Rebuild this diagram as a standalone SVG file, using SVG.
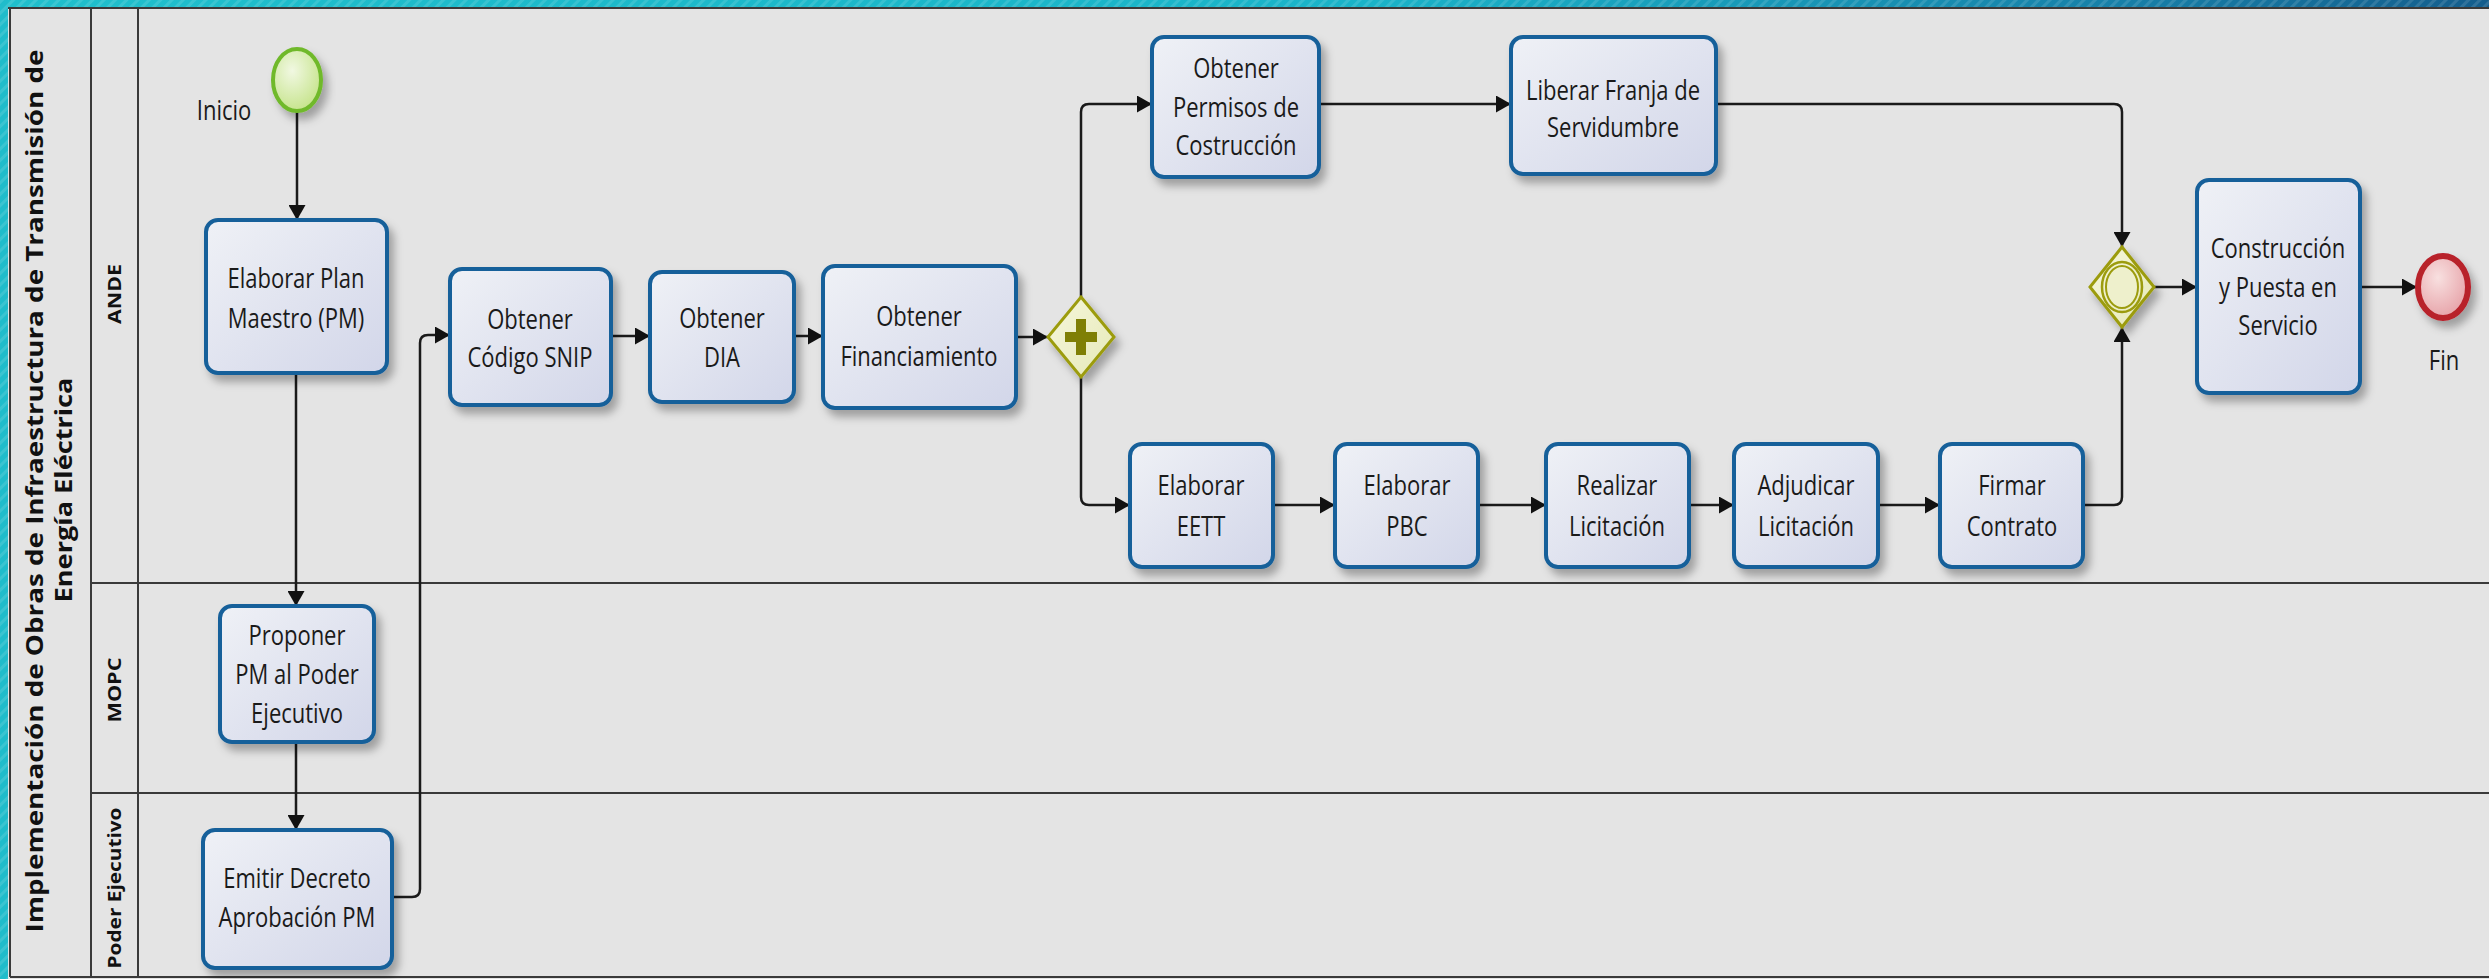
<svg xmlns="http://www.w3.org/2000/svg" width="2489" height="979" viewBox="0 0 2489 979">
<defs>
<style>
.box{fill:url(#gBox);stroke:#17609a;stroke-width:4;filter:url(#sh)}
.t{font-family:"Open Sans","Liberation Sans",sans-serif;font-size:22px;fill:#1a1a1a;text-anchor:middle}
.ttl{font-family:"Open Sans","DejaVu Sans",sans-serif;font-weight:bold;fill:#111;text-anchor:middle}
.conn{fill:none;stroke:#1a1a1a;stroke-width:2.5;marker-end:url(#arr)}
.ln{stroke:#3a3a3a;stroke-width:2;fill:none}
.gw{fill:url(#gGw);stroke:#9c9c0e;stroke-width:3;filter:url(#sh)}
</style>
<linearGradient id="gBox" x1="0" y1="0" x2="1" y2="1">
<stop offset="0" stop-color="#eff1f6"/><stop offset="1" stop-color="#d2d6e9"/>
</linearGradient>
<linearGradient id="gGw" x1="0" y1="0" x2="1" y2="1">
<stop offset="0" stop-color="#f6f7dc"/><stop offset="1" stop-color="#e6e9b8"/>
</linearGradient>
<radialGradient id="gStart" cx="0.4" cy="0.35" r="0.7">
<stop offset="0" stop-color="#f1f8e2"/><stop offset="1" stop-color="#c4e388"/>
</radialGradient>
<radialGradient id="gEnd" cx="0.4" cy="0.35" r="0.7">
<stop offset="0" stop-color="#f8e0e0"/><stop offset="1" stop-color="#e6a0a6"/>
</radialGradient>
<linearGradient id="gBand" x1="0" y1="0" x2="1" y2="0">
<stop offset="0" stop-color="#20bfcc"/><stop offset="0.55" stop-color="#1ab3c8"/><stop offset="0.85" stop-color="#1780a8"/><stop offset="1" stop-color="#145d8c"/>
</linearGradient>
<pattern id="hatch" width="8" height="8" patternUnits="userSpaceOnUse" patternTransform="rotate(45)">
<rect width="3" height="8" fill="#ffffff" fill-opacity="0.12"/>
</pattern>
<filter id="sh" x="-20%" y="-20%" width="150%" height="150%">
<feDropShadow dx="5" dy="7" stdDeviation="4" flood-color="#000" flood-opacity="0.3"/>
</filter>
<marker id="arr" viewBox="0 0 15 17" refX="15" refY="8.5" markerWidth="15" markerHeight="17" markerUnits="userSpaceOnUse" orient="auto">
<path d="M0,0 L15,8.5 L0,17 z" fill="#111"/>
</marker>
</defs>

<!-- background and frame -->
<rect x="0" y="0" width="2489" height="979" fill="#e4e4e4"/>
<rect x="0" y="0" width="2489" height="7" fill="url(#gBand)"/>
<rect x="0" y="0" width="2489" height="7" fill="url(#hatch)"/>
<rect x="0" y="0" width="8" height="979" fill="#20bccb"/>
<rect x="0" y="0" width="8" height="979" fill="url(#hatch)"/>

<g id="pool">
<line class="ln" x1="8" y1="8" x2="2489" y2="8" stroke="#555"/>
<line class="ln" x1="10" y1="8" x2="10" y2="977"/>
<line class="ln" x1="91" y1="8" x2="91" y2="977"/>
<line class="ln" x1="138" y1="8" x2="138" y2="977"/>
<line class="ln" x1="91" y1="583" x2="2489" y2="583"/>
<line class="ln" x1="91" y1="793" x2="2489" y2="793"/>
<line class="ln" x1="10" y1="977" x2="2489" y2="977" stroke="#666"/>
<text class="ttl" font-size="24" transform="translate(43,491) rotate(-90)" textLength="883" lengthAdjust="spacingAndGlyphs">Implementación de Obras de Infraestructura de Transmisión de</text>
<text class="ttl" font-size="24" transform="translate(72,490) rotate(-90)" textLength="225" lengthAdjust="spacingAndGlyphs">Energía Eléctrica</text>
<text class="ttl" font-size="17" transform="translate(121,294) rotate(-90)" textLength="60" lengthAdjust="spacingAndGlyphs">ANDE</text>
<text class="ttl" font-size="17" transform="translate(121,690) rotate(-90)" textLength="65" lengthAdjust="spacingAndGlyphs">MOPC</text>
<text class="ttl" font-size="17" transform="translate(121,888) rotate(-90)" textLength="161" lengthAdjust="spacingAndGlyphs">Poder Ejecutivo</text>
</g>

<g id="connectors">
<path class="conn" d="M297,112 V220"/>
<path class="conn" d="M296,373 V606"/>
<path class="conn" d="M296,742 V830"/>
<path class="conn" d="M392,897 H412 Q420,897 420,889 V343 Q420,335 428,335 H450"/>
<path class="conn" d="M611,336 H650"/>
<path class="conn" d="M794,336 H823"/>
<path class="conn" d="M1016,337 H1048"/>
<path class="conn" d="M1081,297 V112 Q1081,104 1089,104 H1152"/>
<path class="conn" d="M1081,377 V497 Q1081,505 1089,505 H1130"/>
<path class="conn" d="M1319,104 H1511"/>
<path class="conn" d="M1716,104 H2114 Q2122,104 2122,112 V247"/>
<path class="conn" d="M1273,505 H1335"/>
<path class="conn" d="M1478,505 H1546"/>
<path class="conn" d="M1689,505 H1734"/>
<path class="conn" d="M1878,505 H1940"/>
<path class="conn" d="M2083,505 H2114 Q2122,505 2122,497 V327"/>
<path class="conn" d="M2153,287 H2197"/>
<path class="conn" d="M2360,287 H2417"/>
</g>

<g id="inicio">
<ellipse cx="297" cy="80" rx="24" ry="31" fill="url(#gStart)" stroke="#6fb92c" stroke-width="4" filter="url(#sh)"/>
<text class="t" transform="scale(1,1.25)" x="224" y="96">Inicio</text>
</g>

<g id="elaborar-plan">
<rect class="box" x="206" y="220" width="181" height="153" rx="12"/>
<text class="t" transform="scale(1,1.25)"><tspan x="296" y="230.4">Elaborar Plan</tspan><tspan x="296" y="262.4">Maestro (PM)</tspan></text>
</g>

<g id="proponer">
<rect class="box" x="220" y="606" width="154" height="136" rx="12"/>
<text class="t" transform="scale(1,1.25)"><tspan x="297" y="516">Proponer</tspan><tspan x="297" y="547.2">PM al Poder</tspan><tspan x="297" y="578.4">Ejecutivo</tspan></text>
</g>

<g id="emitir">
<rect class="box" x="203" y="830" width="189" height="138" rx="12"/>
<text class="t" transform="scale(1,1.25)"><tspan x="297" y="710.4">Emitir Decreto</tspan><tspan x="297" y="741.6">Aprobación PM</tspan></text>
</g>

<g id="snip">
<rect class="box" x="450" y="269" width="161" height="136" rx="12"/>
<text class="t" transform="scale(1,1.25)"><tspan x="530" y="263.2">Obtener</tspan><tspan x="530" y="293.6">Código SNIP</tspan></text>
</g>

<g id="dia">
<rect class="box" x="650" y="272" width="144" height="130" rx="12"/>
<text class="t" transform="scale(1,1.25)"><tspan x="722" y="262.4">Obtener</tspan><tspan x="722" y="293.6">DIA</tspan></text>
</g>

<g id="financiamiento">
<rect class="box" x="823" y="266" width="193" height="142" rx="12"/>
<text class="t" transform="scale(1,1.25)"><tspan x="919" y="260.8">Obtener</tspan><tspan x="919" y="292.8">Financiamiento</tspan></text>
</g>

<g id="gateway-parallel">
<path class="gw" d="M1081,297 L1114,337 L1081,377 L1048,337 Z"/>
<path d="M1076,319 H1086 V332 H1097 V342 H1086 V355 H1076 V342 H1065 V332 H1076 Z" fill="#7f7f05"/>
</g>

<g id="permisos">
<rect class="box" x="1152" y="37" width="167" height="140" rx="12"/>
<text class="t" transform="scale(1,1.25)"><tspan x="1236" y="62.4">Obtener</tspan><tspan x="1236" y="93.6">Permisos de</tspan><tspan x="1236" y="124">Costrucción</tspan></text>
</g>

<g id="liberar">
<rect class="box" x="1511" y="37" width="205" height="137" rx="12"/>
<text class="t" transform="scale(1,1.25)"><tspan x="1613" y="80">Liberar Franja de</tspan><tspan x="1613" y="109.6">Servidumbre</tspan></text>
</g>

<g id="eett">
<rect class="box" x="1130" y="444" width="143" height="123" rx="12"/>
<text class="t" transform="scale(1,1.25)"><tspan x="1201" y="396">Elaborar</tspan><tspan x="1201" y="428.8">EETT</tspan></text>
</g>

<g id="pbc">
<rect class="box" x="1335" y="444" width="143" height="123" rx="12"/>
<text class="t" transform="scale(1,1.25)"><tspan x="1407" y="396">Elaborar</tspan><tspan x="1407" y="428.8">PBC</tspan></text>
</g>

<g id="realizar">
<rect class="box" x="1546" y="444" width="143" height="123" rx="12"/>
<text class="t" transform="scale(1,1.25)"><tspan x="1617" y="396">Realizar</tspan><tspan x="1617" y="428.8">Licitación</tspan></text>
</g>

<g id="adjudicar">
<rect class="box" x="1734" y="444" width="144" height="123" rx="12"/>
<text class="t" transform="scale(1,1.25)"><tspan x="1806" y="396">Adjudicar</tspan><tspan x="1806" y="428.8">Licitación</tspan></text>
</g>

<g id="firmar">
<rect class="box" x="1940" y="444" width="143" height="123" rx="12"/>
<text class="t" transform="scale(1,1.25)"><tspan x="2012" y="396">Firmar</tspan><tspan x="2012" y="428.8">Contrato</tspan></text>
</g>

<g id="gateway-inclusive">
<path class="gw" d="M2122,247 L2154,287 L2122,327 L2090,287 Z"/>
<ellipse cx="2122" cy="287" rx="20" ry="25" fill="none" stroke="#9c9c0e" stroke-width="2.5"/>
<ellipse cx="2122" cy="287" rx="16" ry="21" fill="#eef0cc" stroke="#9c9c0e" stroke-width="2"/>
</g>

<g id="construccion">
<rect class="box" x="2197" y="180" width="163" height="213" rx="12"/>
<text class="t" transform="scale(1,1.25)"><tspan x="2278" y="206.4">Construcción</tspan><tspan x="2278" y="237.6">y Puesta en</tspan><tspan x="2278" y="268">Servicio</tspan></text>
</g>

<g id="fin">
<ellipse cx="2443" cy="287" rx="25" ry="31" fill="url(#gEnd)" stroke="#b8202a" stroke-width="6" filter="url(#sh)"/>
<text class="t" transform="scale(1,1.25)" x="2444" y="296">Fin</text>
</g>
</svg>
